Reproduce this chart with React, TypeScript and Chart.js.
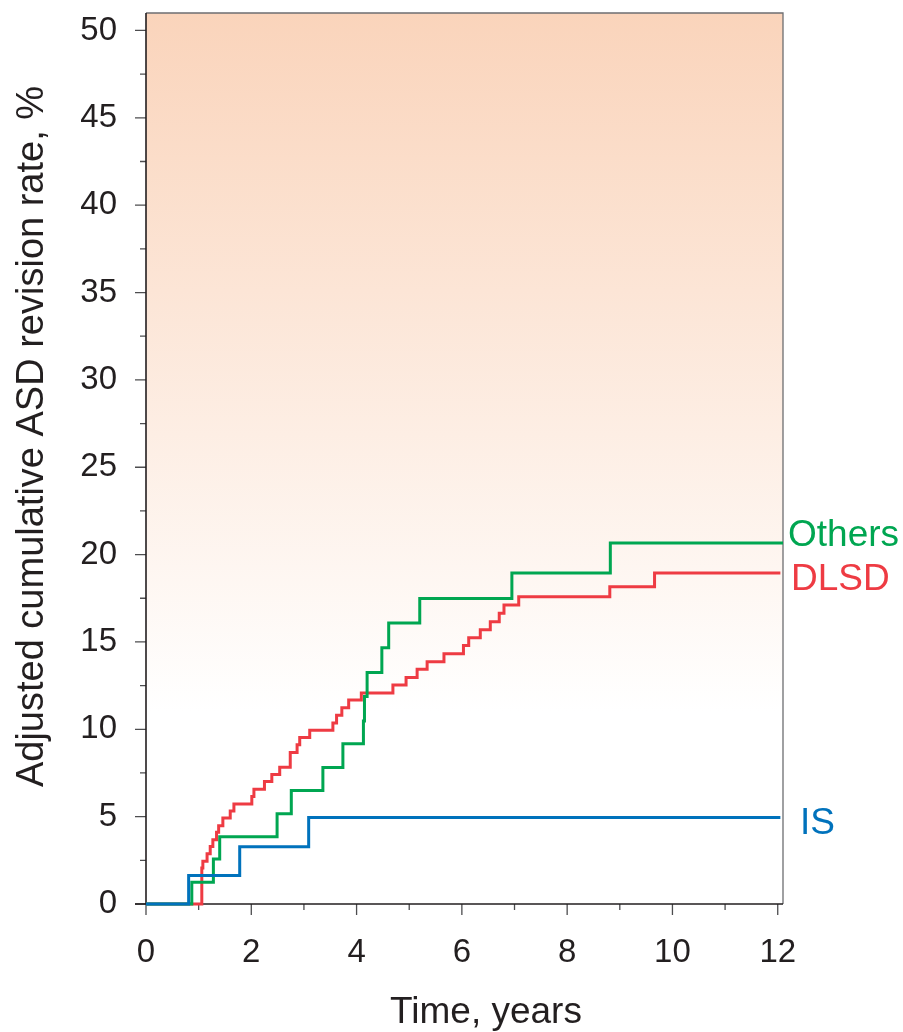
import React, { useEffect, useRef } from 'react';
import { Chart, registerables } from 'chart.js';

Chart.register(...registerables);

const FONT = "'Liberation Sans', Arial, Helvetica, sans-serif";
const TEXT = '#231f20';
const TICK = '#4d4d4f';

// Axis ticks
const xTickValues = [0, 2, 4, 6, 8, 10, 12];
const xMinorTicks = [1, 3, 5, 7, 9, 11];
const yTickValues = [0, 5, 10, 15, 20, 25, 30, 35, 40, 45, 50];
const yMinorTicks = [2.5, 7.5, 12.5, 17.5, 22.5, 27.5, 32.5, 37.5, 42.5, 47.5];

const xTitle = 'Time, years';
const yTitle = 'Adjusted cumulative ASD revision rate, %';

// Series names
const seriesNames = ['IS', 'Others', 'DLSD'];
const seriesColors = ['#0072bc', '#00a651', '#ee3b43'];

// IS
const isTimes = [0, 0.81, 1.78, 3.09, 12.05];
const isValues = [0, 1.63, 3.27, 4.95, 4.95];

// Others
const othersTimes = [0, 0.87, 1.28, 1.4, 2.49, 2.76, 3.36, 3.74, 4.13, 4.15, 4.2, 4.48, 4.61, 5.2, 6.95, 8.82, 12.1];
const othersValues = [0, 1.24, 2.57, 3.85, 5.16, 6.5, 7.81, 9.17, 10.48, 11.87, 13.25, 14.67, 16.08, 17.48, 18.95, 20.67, 20.67];

// DLSD
const dlsdTimes = [0, 1.06, 1.08, 1.16, 1.22, 1.27, 1.34, 1.38, 1.46, 1.6, 1.67, 2.01, 2.05, 2.25, 2.39, 2.54, 2.74, 2.87, 2.92, 3.11, 3.55, 3.62, 3.72, 3.85, 4.09, 4.69, 4.94, 5.15, 5.34, 5.66, 6.03, 6.13, 6.35, 6.54, 6.71, 6.8, 7.08, 8.81, 9.66, 12.05];
const dlsdValues = [0, 2.06, 2.44, 2.88, 3.29, 3.68, 4.1, 4.48, 4.92, 5.33, 5.72, 6.15, 6.57, 7.01, 7.41, 7.83, 8.67, 9.11, 9.53, 9.95, 10.36, 10.8, 11.24, 11.68, 12.08, 12.54, 12.97, 13.44, 13.87, 14.33, 14.79, 15.24, 15.7, 16.16, 16.64, 17.11, 17.59, 18.16, 18.95, 18.95];

const toPoints = (t: number[], v: number[]) => t.map((x, i) => ({ x, y: v[i] }));

const decorPlugin = {
  id: 'decor',
  beforeDraw(chart: any) {
    const { ctx, chartArea: a } = chart;
    const g = ctx.createLinearGradient(0, a.top, 0, 712);
    g.addColorStop(0, '#fad4bb');
    g.addColorStop(1, '#ffffff');
    ctx.save();
    ctx.fillStyle = g;
    ctx.fillRect(a.left, a.top, a.right - a.left, a.bottom - a.top);
    ctx.restore();
  },
  beforeDatasetsDraw(chart: any) {
    const { ctx, chartArea: a, scales } = chart;
    const xs = scales.x;
    const ys = scales.y;
    ctx.save();
    // top & right frame
    ctx.strokeStyle = '#6d6e71';
    ctx.lineWidth = 1.3;
    ctx.beginPath();
    ctx.moveTo(a.left, a.top);
    ctx.lineTo(a.right, a.top);
    ctx.lineTo(a.right, a.bottom);
    ctx.stroke();
    // ticks
    ctx.strokeStyle = TICK;
    ctx.lineWidth = 1.3;
    ctx.beginPath();
    yTickValues.forEach((v) => {
      const p = ys.getPixelForValue(v);
      ctx.moveTo(a.left - 11, p);
      ctx.lineTo(a.left, p);
    });
    yMinorTicks.forEach((v) => {
      const p = ys.getPixelForValue(v);
      ctx.moveTo(a.left - 6, p);
      ctx.lineTo(a.left, p);
    });
    xTickValues.forEach((v) => {
      const p = xs.getPixelForValue(v);
      ctx.moveTo(p, a.bottom);
      ctx.lineTo(p, a.bottom + 11);
    });
    xMinorTicks.forEach((v) => {
      const p = xs.getPixelForValue(v);
      ctx.moveTo(p, a.bottom);
      ctx.lineTo(p, a.bottom + 6);
    });
    ctx.stroke();
    // axis lines
    ctx.strokeStyle = '#231f20';
    ctx.lineWidth = 1.6;
    ctx.beginPath();
    ctx.moveTo(a.left, a.top);
    ctx.lineTo(a.left, a.bottom);
    ctx.moveTo(a.left - 11, a.bottom);
    ctx.lineTo(a.right, a.bottom);
    ctx.stroke();
    ctx.restore();
  },
  afterDraw(chart: any) {
    const { ctx, chartArea: a, scales } = chart;
    const ys = scales.y;
    ctx.save();
    ctx.font = `37px ${FONT}`;
    ctx.textBaseline = 'alphabetic';
    ctx.textAlign = 'left';
    // series labels
    ctx.fillStyle = seriesColors[1];
    ctx.fillText(seriesNames[1], a.right + 5, ys.getPixelForValue(othersValues[othersValues.length - 1]) + 3);
    ctx.fillStyle = seriesColors[2];
    ctx.fillText(seriesNames[2], a.right + 8, ys.getPixelForValue(dlsdValues[dlsdValues.length - 1]) + 17);
    ctx.fillStyle = seriesColors[0];
    ctx.fillText(seriesNames[0], a.right + 17, ys.getPixelForValue(isValues[isValues.length - 1]) + 16.5);
    // axis titles
    ctx.fillStyle = TEXT;
    ctx.textAlign = 'center';
    ctx.fillText(xTitle, 486, 1022.7);
    ctx.font = `38px ${FONT}`;
    ctx.translate(43, 436.5);
    ctx.rotate(-Math.PI / 2);
    ctx.fillText(yTitle, 0, 0);
    ctx.restore();
  },
};

export default function App() {
  const canvasRef = useRef<HTMLCanvasElement | null>(null);

  useEffect(() => {
    const canvas = canvasRef.current;
    if (!canvas) return;
    const chart = new Chart(canvas, {
      type: 'line',
      data: {
        datasets: [
          {
            label: seriesNames[0],
            data: toPoints(isTimes, isValues),
            borderColor: seriesColors[0],
            borderWidth: 3,
            pointRadius: 0,
            stepped: 'before',
            fill: false,
            clip: false as any,
          },
          {
            label: seriesNames[1],
            data: toPoints(othersTimes, othersValues),
            borderColor: seriesColors[1],
            borderWidth: 3,
            pointRadius: 0,
            stepped: 'before',
            fill: false,
            clip: false as any,
          },
          {
            label: seriesNames[2],
            data: toPoints(dlsdTimes, dlsdValues),
            borderColor: seriesColors[2],
            borderWidth: 3,
            pointRadius: 0,
            stepped: 'before',
            fill: false,
            clip: false as any,
          },
        ],
      },
      options: {
        responsive: false,
        animation: false,
        events: [],
        layout: { padding: { left: 0, top: 13, right: 120, bottom: 0 } },
        plugins: {
          legend: { display: false },
          tooltip: { enabled: false },
          title: { display: false },
        },
        scales: {
          x: {
            type: 'linear',
            min: 0,
            max: 12.1,
            grid: { display: false, drawTicks: false },
            border: { display: false },
            afterBuildTicks: (s: any) => {
              s.ticks = xTickValues.map((v) => ({ value: v }));
            },
            afterFit: (s: any) => {
              s.height = 128;
              s.paddingLeft = 0;
              s.paddingRight = 0;
            },
            ticks: {
              padding: 29,
              color: TEXT,
              font: { family: FONT, size: 33 },
              maxRotation: 0,
              autoSkip: false,
            },
          },
          y: {
            type: 'linear',
            min: 0,
            max: 51,
            grid: { display: false, drawTicks: false },
            border: { display: false },
            afterBuildTicks: (s: any) => {
              s.ticks = yTickValues.map((v) => ({ value: v }));
            },
            afterFit: (s: any) => {
              s.width = 146;
              s.paddingTop = 0;
              s.paddingBottom = 0;
            },
            ticks: {
              padding: 29,
              color: TEXT,
              font: { family: FONT, size: 33 },
              autoSkip: false,
            },
          },
        },
      },
      plugins: [decorPlugin],
    });
    return () => chart.destroy();
  }, []);

  return (
    <div style={{ position: 'absolute', left: 0, top: 0, width: 903, height: 1032, background: '#fff' }}>
      <canvas ref={canvasRef} width={903} height={1032} style={{ display: 'block' }} />
    </div>
  );
}
